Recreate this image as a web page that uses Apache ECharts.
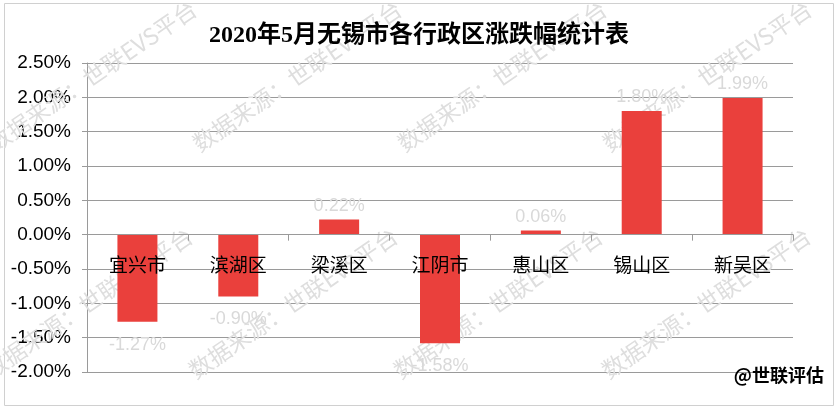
<!DOCTYPE html>
<html><head><meta charset="utf-8">
<script src="https://cdn.jsdelivr.net/npm/echarts@6/dist/echarts.min.js"></script>
<style>html,body{margin:0;padding:0;background:#fff}#c{width:838px;height:409px}</style>
</head><body><div id="c"></div>
<script>
var categories = ['宜兴市','滨湖区','梁溪区','江阴市','惠山区','锡山区','新吴区'];
var values = [-1.27, -0.90, 0.22, -1.58, 0.06, 1.80, 1.99];
var titleText = '2020年5月无锡市各行政区涨跌幅统计表';
var watermarkText = '数据来源：世联EVS平台';
var credit = '@世联评估';

var wmCenters = [[92,76],[297,76],[502,76],[707,76],[88,303],[293,303],[498,303],[706,303]];
var graphics = [{
  type:'rect', shape:{x:4.5,y:3.5,width:829,height:402}, style:{fill:'none',stroke:'#d0d0d0',lineWidth:1}, z:-1
}];
wmCenters.forEach(function(p){
  graphics.push({type:'text', x:p[0], y:p[1], rotation:0.6, z:1, silent:true,
    style:{text:watermarkText, fill:'#dedede', font:'23px "Noto Sans CJK SC", sans-serif', align:'center', verticalAlign:'middle'}});
});
graphics.push({type:'text', right:14, top:366, z:101,
  style:{text:credit, fill:'#000', font:'bold 18px "Noto Sans CJK SC", sans-serif'}});

var chart = echarts.init(document.getElementById('c'));
var option = {
  animation:false,
  title:{text:titleText, left:'center', top:19, textStyle:{fontFamily:'"Liberation Serif","Noto Sans CJK SC",serif', fontWeight:'bold', fontSize:24, color:'#000'}},
  grid:{left:87, right:45, top:63, bottom:37},
  xAxis:{type:'category', data:categories,
    axisLine:{onZero:true, lineStyle:{color:'#9a9a9a'}},
    axisTick:{show:true, length:6, lineStyle:{color:'#9a9a9a'}},
    axisLabel:{color:'#000', fontSize:19, margin:20, fontFamily:'"Noto Sans CJK SC",sans-serif'},
    z:10
  },
  yAxis:{type:'value', min:-2, max:2.5, interval:0.5,
    axisLine:{show:true, lineStyle:{color:'#9a9a9a'}},
    axisTick:{show:true, length:5, lineStyle:{color:'#9a9a9a'}},
    splitLine:{lineStyle:{color:'#9a9a9a'}},
    axisLabel:{color:'#000', fontSize:19, margin:16, fontFamily:'"Liberation Sans",Arial,sans-serif',
      formatter:function(v){return v.toFixed(2)+'%';}}
  },
  series:[{type:'bar', barWidth:40, z:5,
    itemStyle:{color:'#EA403C'},
    data:values.map(function(v){
      return {value:v, label:{show:true, position:v>=0?'top':'bottom', distance:v>=0?5:14,
        color:'#d9d9d9', fontSize:18, fontFamily:'"Liberation Sans",Arial,sans-serif',
        formatter:function(p){return p.value.toFixed(2)+'%';}}};
    })
  }],
  graphic:graphics
};
chart.setOption(option);
// Category labels sit just under the zero line, as in the reference
var zeroY = chart.convertToPixel({yAxisIndex:0}, 0);
var minY = chart.convertToPixel({yAxisIndex:0}, -2);
chart.setOption({xAxis:{axisLabel:{margin:20 - (minY - zeroY)}}});
</script></body></html>
